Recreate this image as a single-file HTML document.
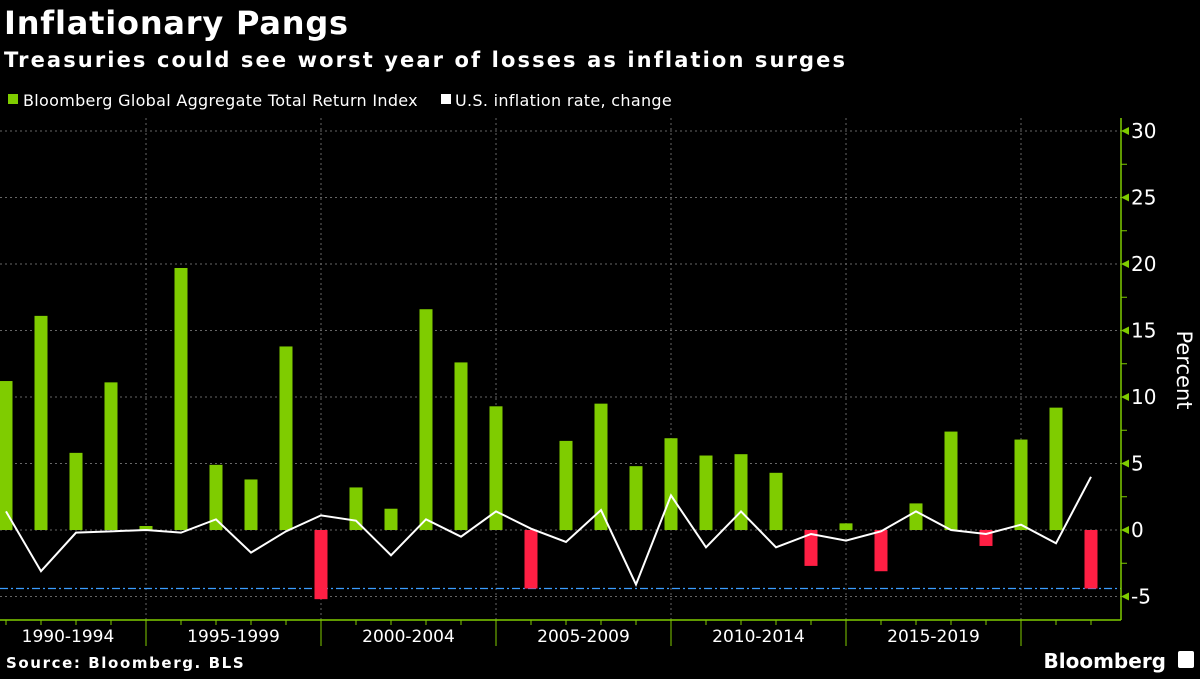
<!DOCTYPE html>
<html><head><meta charset="utf-8"><style>
body{margin:0;background:#000;width:1200px;height:675px;overflow:hidden;font-family:"DejaVu Sans","Liberation Sans",sans-serif;color:#fff}
svg text{font-family:"DejaVu Sans","Liberation Sans",sans-serif}
</style></head><body>
<svg width="1200" height="675" xmlns="http://www.w3.org/2000/svg">
<text x="4" y="34" font-size="32" font-weight="bold" fill="#fff" letter-spacing="0.8">Inflationary Pangs</text>
<text x="4" y="67" font-size="21" font-weight="bold" fill="#fff" letter-spacing="2.1">Treasuries could see worst year of losses as inflation surges</text>
<g font-size="16">
<rect x="8" y="94" width="10" height="10" fill="#7fcc00"/>
<text x="23" y="106" fill="#fff" letter-spacing="0.3">Bloomberg Global Aggregate Total Return Index</text>
<rect x="441" y="94" width="10" height="10" fill="#fff"/>
<text x="455" y="106" fill="#fff" letter-spacing="0.3">U.S. inflation rate, change</text>
</g>
<g id="grid"></g>
<g id="bars"></g>
<g id="line"></g>
<g id="axes"></g>
<text transform="translate(1177,370) rotate(90)" font-size="21" fill="#fff" text-anchor="middle">Percent</text>
<text x="6" y="668" font-size="15" font-weight="bold" fill="#fff" letter-spacing="1.6">Source: Bloomberg. BLS</text>
<text x="1166" y="668" font-size="20" font-weight="bold" fill="#fff" text-anchor="end">Bloomberg</text>
<rect x="1178" y="651" width="16" height="17" rx="2" fill="#fff"/>
</svg>
<script>
const years=[1990,1991,1992,1993,1994,1995,1996,1997,1998,1999,2000,2001,2002,2003,2004,2005,2006,2007,2008,2009,2010,2011,2012,2013,2014,2015,2016,2017,2018,2019,2020,2021];
const indexReturns=[11.2,16.1,5.8,11.1,0.3,19.7,4.9,3.8,13.8,-5.2,3.2,1.6,16.6,12.6,9.3,-4.4,6.7,9.5,4.8,6.9,5.6,5.7,4.3,-2.7,0.5,-3.1,2.0,7.4,-1.2,6.8,9.2,-4.4];
const inflationChange=[1.4,-3.1,-0.2,-0.1,0,-0.2,0.8,-1.7,-0.1,1.1,0.7,-1.9,0.8,-0.5,1.4,0.1,-0.9,1.5,-4.1,2.6,-1.3,1.4,-1.3,-0.3,-0.8,-0.1,1.4,0,-0.3,0.4,-1.0,4.0];
const yTicks=[30,25,20,15,10,5,0,-5];
const groupLabels=["1990-1994","1995-1999","2000-2004","2005-2009","2010-2014","2015-2019"];
const refLine=-4.4;
const NS="http://www.w3.org/2000/svg";
const X=i=>6+(1091-6)/31*i, Y=v=>530-v*13.3;
const xr=1121, yb=620;
function mk(p,t,a){const e=document.createElementNS(NS,t);for(const k in a)e.setAttribute(k,a[k]);p.appendChild(e);return e;}
const grid=document.getElementById('grid'),bars=document.getElementById('bars'),line=document.getElementById('line'),axes=document.getElementById('axes');
yTicks.forEach(v=>{
 const l=mk(grid,'line',{x1:0,x2:xr,y1:Y(v),y2:Y(v),stroke:'#666','stroke-dasharray':'2,3','stroke-width':1});
 
 
 const t=mk(axes,'text',{x:1131,y:Y(v)+7,'font-size':20,fill:'#fff'});t.textContent=v<0?'-'+Math.abs(v):v;
 
 
 mk(axes,'polygon',{points:`${xr},${Y(v)} ${xr+8},${Y(v)-4} ${xr+8},${Y(v)+4}`,fill:'#7fcc00'});
 if(v>-5)mk(axes,'line',{x1:xr,x2:xr+6,y1:Y(v-2.5),y2:Y(v-2.5),stroke:'#7fcc00'});
});
years.forEach((y,i)=>{
 if(y%5===4){const l=mk(grid,'line',{x1:X(i),x2:X(i),y1:118,y2:yb,stroke:'#666','stroke-dasharray':'2,3'});
 
 
 mk(axes,'line',{x1:X(i),x2:X(i),y1:yb,y2:646,stroke:'#7fcc00','stroke-width':1});}
 else mk(axes,'line',{x1:X(i),x2:X(i),y1:yb,y2:yb+5,stroke:'#7fcc00'});
 const v=indexReturns[i];
 const r=mk(bars,'rect',{x:X(i)-6.5,y:Math.min(Y(v),Y(0)),width:13,height:Math.abs(Y(v)-Y(0)),fill:v>=0?'#7fcc00':'#ff1f44'});
 
 
});
const rl=mk(grid,'line',{x1:0,x2:xr,y1:Y(refLine),y2:Y(refLine),stroke:'#3a9cff','stroke-dasharray':'8,3,2,3','stroke-width':1.2});


const pl=mk(line,'polyline',{points:inflationChange.map((v,i)=>X(i)+','+Y(v)).join(' '),fill:'none',stroke:'#fff','stroke-width':2});


mk(axes,'line',{x1:xr,x2:xr,y1:118,y2:yb,stroke:'#7fcc00','stroke-width':1.5});
mk(axes,'line',{x1:0,x2:xr,y1:yb,y2:yb,stroke:'#7fcc00','stroke-width':1.5});
groupLabels.forEach((g,k)=>{
 const c=(X(k*5-1)+X(k*5+4))/2;
 const t=mk(axes,'text',{x:k==0?68:c,y:642,'font-size':17,fill:'#fff','text-anchor':'middle'});t.textContent=g;
 
 
});
</script>
</body></html>
